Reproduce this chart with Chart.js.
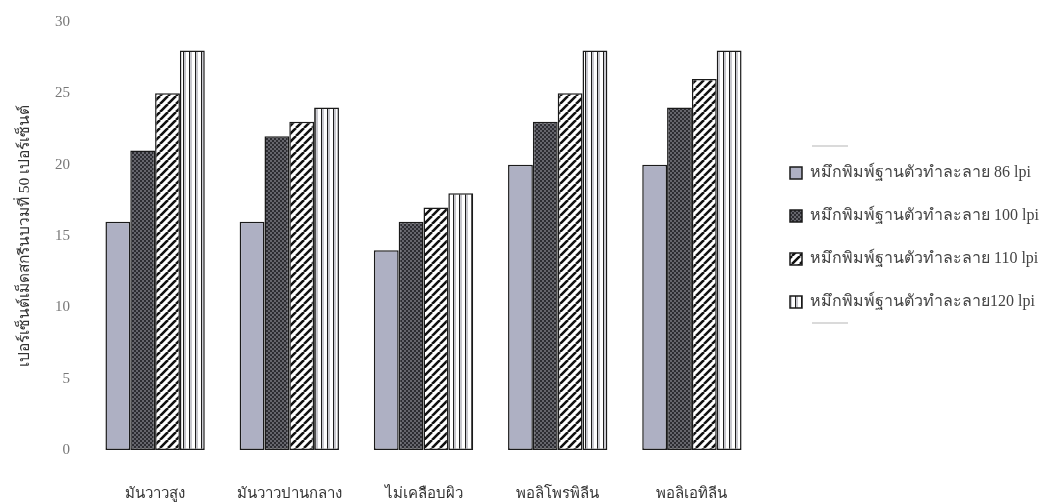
<!DOCTYPE html>
<html>
<head>
<meta charset="utf-8">
<script src="https://cdn.jsdelivr.net/npm/chart.js@4/dist/chart.umd.min.js"></script>
<style>
  html, body { margin: 0; padding: 0; background: #ffffff; }
  #wrap { width: 1042px; height: 503px; }
</style>
</head>
<body>
<div id="wrap"><canvas id="dotGainChart" width="1042" height="503"></canvas></div>
<script>
    // ประเภทกระดาษ / วัสดุพิมพ์
    const categories = ['มันวาวสูง', 'มันวาวปานกลาง', 'ไม่เคลือบผิว', 'พอลิโพรพิลีน', 'พอลิเอทิลีน'];

    // ค่าของแต่ละความละเอียดเส้นสกรีน
    const lpi86 = [16, 16, 14, 20, 20];
    const lpi100 = [21, 22, 16, 23, 24];
    const lpi110 = [25, 23, 17, 25, 26];
    const lpi120 = [28, 24, 18, 28, 28];

    const seriesLabels = [
        'หมึกพิมพ์ฐานตัวทำละลาย 86 lpi',
        'หมึกพิมพ์ฐานตัวทำละลาย 100 lpi',
        'หมึกพิมพ์ฐานตัวทำละลาย 110 lpi',
        'หมึกพิมพ์ฐานตัวทำละลาย120 lpi'
    ];

    const yTicks = [0, 5, 10, 15, 20, 25, 30];
    const yTitle = 'เปอร์เซ็นต์เม็ดสกรีนบวมที่ 50 เปอร์เซ็นต์';

    const serif = '"Liberation Serif", "DejaVu Serif", serif';

    // สร้างลายเติมของแท่ง
    function makePattern(w, h, draw) {
        const c = document.createElement('canvas');
        c.width = w;
        c.height = h;
        const g = c.getContext('2d');
        draw(g, w, h);
        return g.createPattern(c, 'repeat');
    }

    const ctx = document.getElementById('dotGainChart').getContext('2d');

    const fillLight = '#aeb0c3';

    const fillCross = makePattern(4, 4, function(g) {
        g.fillStyle = '#65656c';
        g.fillRect(0, 0, 4, 4);
        g.fillStyle = '#2c2c31';
        g.fillRect(0, 0, 2, 2);
        g.fillRect(2, 2, 2, 2);
    });

    const fillDiag = makePattern(8, 8, function(g, w, h) {
        g.fillStyle = '#ffffff';
        g.fillRect(0, 0, w, h);
        g.strokeStyle = '#111111';
        g.lineWidth = 2.6;
        g.beginPath();
        for (let k = -1; k <= 1; k++) {
            g.moveTo(k * w, h);
            g.lineTo(k * w + w, 0);
        }
        g.stroke();
    });

    const fillVert = makePattern(6, 1, function(g) {
        g.fillStyle = '#ffffff';
        g.fillRect(0, 0, 3, 1);
        g.fillStyle = '#1e1e1e';
        g.fillRect(3, 0, 1, 1);
        g.fillStyle = '#c9c9cf';
        g.fillRect(4, 0, 2, 1);
    });

    const fills = [fillLight, fillCross, fillDiag, fillVert];
    const values = [lpi86, lpi100, lpi110, lpi120];

    // ความกว้างคำอธิบายสัญลักษณ์ และระยะเลื่อนให้อยู่กลางพื้นที่กราฟ
    const LEGEND_WIDTH = 283;
    const LEGEND_LIFT = 25;
    const LEGEND_SHIFT = 4;

    const legendLayout = {
        id: 'legendLayout',
        beforeLayout(chart) {
            const lg = chart.legend;
            if (!lg || lg._widened) return;
            const fit = lg.fit.bind(lg);
            // ข้อความยาว ให้กล่องคำอธิบายกว้างกว่าที่ layout จำกัดไว้
            lg.fit = function() {
                fit();
                this.width = LEGEND_WIDTH;
            };
            lg._widened = true;
        },
        afterLayout(chart) {
            const lg = chart.legend;
            if (!lg) return;
            lg.top -= LEGEND_LIFT;
            lg.bottom -= LEGEND_LIFT;
            lg.left += LEGEND_SHIFT;
            lg.right += LEGEND_SHIFT;
            (lg.legendHitBoxes || []).forEach(b => {
                b.top -= LEGEND_LIFT;
                b.left += LEGEND_SHIFT;
            });
        },
        // เส้นสั้นสีเทาเหนือและใต้คำอธิบายสัญลักษณ์
        afterDraw(chart) {
            const boxes = chart.legend && chart.legend.legendHitBoxes;
            if (!boxes || !boxes.length) return;
            const c = chart.ctx;
            const first = boxes[0];
            const last = boxes[boxes.length - 1];
            const x0 = first.left + 18;
            c.save();
            c.strokeStyle = '#b5b5b5';
            c.lineWidth = 1;
            c.beginPath();
            c.moveTo(x0, first.top - 19);
            c.lineTo(x0 + 36, first.top - 19);
            c.moveTo(x0, last.top + last.height + 13);
            c.lineTo(x0 + 36, last.top + last.height + 13);
            c.stroke();
            c.restore();
        }
    };

    new Chart(ctx, {
        type: 'bar',
        data: {
            labels: categories,
            datasets: values.map(function(v, i) {
                return {
                    label: seriesLabels[i],
                    data: v,
                    backgroundColor: fills[i],
                    borderColor: '#1a1a1a',
                    borderWidth: 1.5,
                    borderSkipped: false,
                    barPercentage: 1,
                    categoryPercentage: 0.74
                };
            })
        },
        options: {
            responsive: false,
            animation: false,
            layout: {
                padding: { left: 16, top: 22, right: 0, bottom: 0 }
            },
            plugins: {
                legend: {
                    display: true,
                    position: 'right',
                    labels: {
                        boxWidth: 12,
                        boxHeight: 12,
                        padding: 27,
                        color: '#444444',
                        font: { family: serif, size: 16 }
                    }
                },
                title: { display: false },
                tooltip: { enabled: false }
            },
            scales: {
                x: {
                    grid: { display: false },
                    border: { display: false },
                    ticks: {
                        padding: 27,
                        color: '#333333',
                        font: { family: serif, size: 15 }
                    },
                    afterFit: function(scale) { scale.height = 53; }
                },
                y: {
                    min: 0,
                    max: 30,
                    afterBuildTicks: function(scale) {
                        scale.ticks = yTicks.map(v => ({ value: v }));
                    },
                    grid: { display: false },
                    border: { display: false },
                    ticks: {
                        padding: 10,
                        color: '#777777',
                        font: { family: serif, size: 15 }
                    },
                    title: {
                        display: true,
                        text: yTitle,
                        color: '#333333',
                        font: { family: serif, size: 15.5 },
                        padding: { top: 0, bottom: 0 }
                    },
                    afterFit: function(scale) { scale.width = 72; }
                }
            }
        },
        plugins: [legendLayout]
    });
</script>
</body>
</html>
